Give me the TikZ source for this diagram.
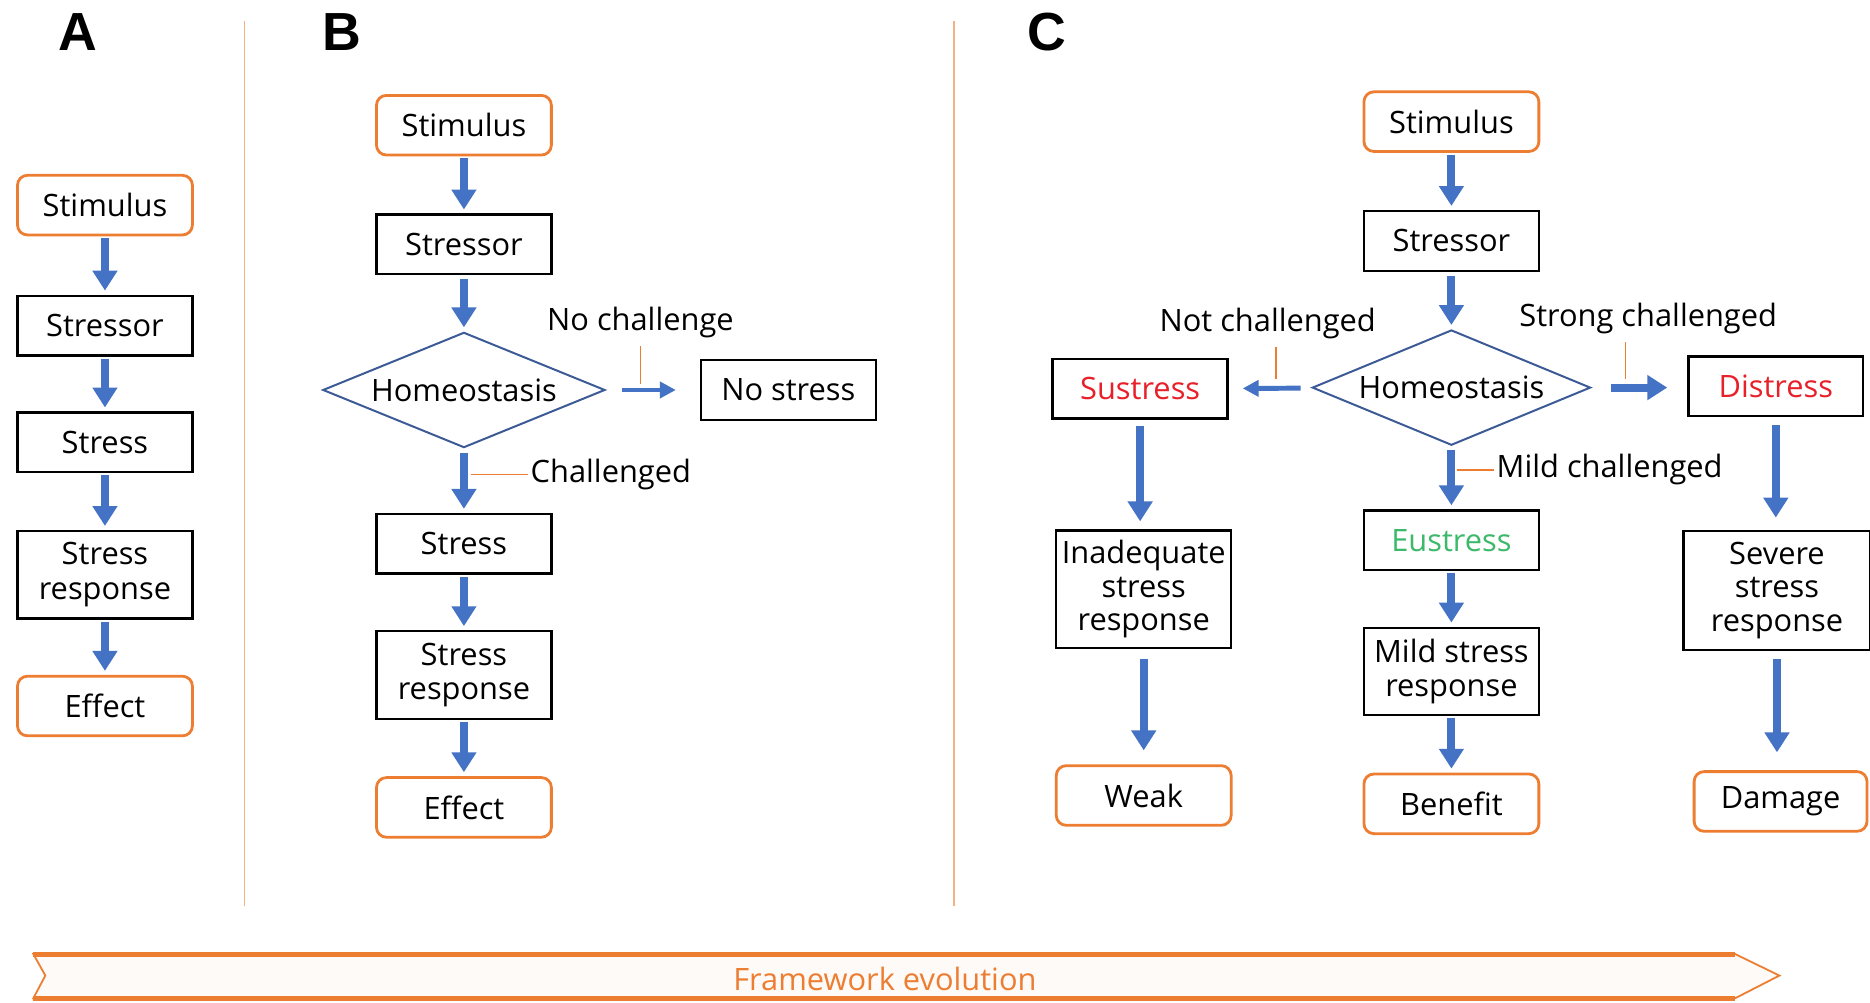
\documentclass[tikz,border=0pt]{standalone}
\usepackage{fontspec}
\setmainfont{Open Sans}
\newfontfamily\lblfont{Liberation Sans}
\usetikzlibrary{shapes.geometric,arrows.meta}
\definecolor{orng}{HTML}{ED7D31}
\definecolor{lorng}{HTML}{F4B183}
\definecolor{arrblue}{HTML}{4472C4}
\definecolor{dgblue}{HTML}{3C5A96}
\definecolor{sred}{HTML}{E8202A}
\definecolor{egreen}{HTML}{3CB96A}
\begin{document}
\begin{tikzpicture}[x=0.6pt,y=-0.6pt,
  txt/.style={font=\fontsize{15.5}{17.5}\selectfont},
  box/.style={txt,draw=black,line width=1.2pt,minimum width=88pt,minimum height=30pt,inner sep=2pt,align=center},
  rbox/.style={box,draw=orng,rounded corners=5pt,line width=1.4pt},
  dia/.style={txt,diamond,aspect=2.45,draw=dgblue,line width=1pt,minimum width=142pt,minimum height=58pt,inner sep=0pt},
  flow/.style={-{Triangle[width=12pt,length=10pt]},line width=4pt,draw=arrblue},
  thinflow/.style={-{Triangle[width=8pt,length=8pt]},line width=2.5pt,draw=arrblue},
  lbl/.style={txt,inner sep=1pt},
  tick/.style={draw=orng,line width=0.8pt},
  panel/.style={font=\lblfont\bfseries\fontsize{27}{27}\selectfont,inner sep=0pt}]
\useasboundingbox (0,0) rectangle (1568,841);
\fill[white] (0,0) rectangle (1568,841);

% dividers
\draw[draw=lorng,line width=0.9pt] (205,18) -- (205,760);
\draw[draw=lorng,line width=0.9pt] (800,18) -- (800,760);

% ---------- Panel A ----------
\node[panel] (labA) at (65,27) {A};
\node[rbox] (a1) at (88,172) {Stimulus};
\node[box] (a2) at (88,273) {Stressor};
\node[box] (a3) at (88,371) {Stress};
\node[box,minimum height=44pt] (a4) at (88,482) {Stress\\response};
\node[rbox] (a5) at (88,592) {Effect};
\draw[flow,shorten <=1pt,shorten >=2pt] (a1) -- (a2);
\draw[flow,shorten <=1pt,shorten >=2pt] (a2) -- (a3);
\draw[flow,shorten <=1pt,shorten >=2pt] (a3) -- (a4);
\draw[flow,shorten <=1pt,shorten >=2pt] (a4) -- (a5);

% ---------- Panel B ----------
\node[panel] (labB) at (287,27) {B};
\node[rbox] (b1) at (389,105) {Stimulus};
\node[box] (b2) at (389,205) {Stressor};
\node[dia] (b3) at (389,327) {Homeostasis};
\node[box] (b4) at (661,327) {No stress};
\node[box] (b5) at (389,456) {Stress};
\node[box,minimum height=44pt] (b6) at (389,566) {Stress\\response};
\node[rbox] (b7) at (389,677) {Effect};
\draw[flow,shorten <=1pt,shorten >=2pt] (b1) -- (b2);
\draw[flow,shorten <=2pt,shorten >=2pt] (b2) -- (b3);
\draw[flow,shorten <=2pt,shorten >=2pt] (b3) -- (b5);
\draw[flow,shorten <=1pt,shorten >=2pt] (b5) -- (b6);
\draw[flow,shorten <=1pt,shorten >=2pt] (b6) -- (b7);
\draw[thinflow,shorten <=8pt,shorten >=12pt] (b3) -- (b4);
\node[lbl] (nc) at (537,270) {No challenge};
\coordinate (nct) at (537,322);
\draw[tick,shorten <=3pt] (nc) -- (nct);
\node[lbl,anchor=west] (chl) at (443,398) {Challenged};
\coordinate (cht) at (395,398);
\draw[tick] (cht) -- (chl);

% ---------- Panel C ----------
\node[panel] (labC) at (878,27) {C};
\node[rbox] (c1) at (1217,102) {Stimulus};
\node[box] (c2) at (1217,202) {Stressor};
\node[dia,minimum width=140pt] (c3) at (1217,325) {Homeostasis};
\node[box] (c4) at (956,326) {\textcolor{sred}{Sustress}};
\node[box] (c5) at (1489,324) {\textcolor{sred}{Distress}};
\node[box] (c6) at (1217,453) {\textcolor{egreen}{Eustress}};
\node[box,minimum height=44pt] (c7) at (1217,563) {Mild stress\\response};
\node[rbox] (c8) at (1217,674) {Benefit};
\node[box,minimum height=59pt,font=\fontsize{15.5}{16.8}\selectfont] (c9) at (959,494) {Inadequate\\stress\\response};
\node[rbox] (c10) at (959,667) {Weak};
\node[box,minimum width=94pt,minimum height=60pt,font=\fontsize{15.5}{16.8}\selectfont] (c11) at (1490,495) {Severe\\stress\\response};
\node[rbox,minimum width=87pt] (c12) at (1493,672) {Damage};
\draw[flow,shorten <=1pt,shorten >=2pt] (c1) -- (c2);
\draw[flow,shorten <=2pt,shorten >=2pt] (c2) -- (c3);
\draw[flow,shorten <=2pt,shorten >=2pt] (c3) -- (c6);
\draw[flow,shorten <=1pt,shorten >=2pt] (c6) -- (c7);
\draw[flow,shorten <=1pt,shorten >=2pt] (c7) -- (c8);
\draw[thinflow,shorten <=6pt,shorten >=7pt] (c3) -- (c4);
\draw[flow,shorten <=10pt,shorten >=10pt] (c3.east) -- (c3.east -| c5.west);
\draw[flow,shorten <=3pt,shorten >=4pt] (c4) -- (c4 |- c9.north);
\draw[flow,shorten <=5pt,shorten >=7pt] (c9) -- (c10);
\draw[flow,shorten <=4pt,shorten >=6pt] (c5.south) -- (c5.south |- c11.north);
\draw[flow,shorten <=4pt,shorten >=9pt] (c11.south) -- (c11.south |- c12.north);
\node[lbl] (ncl) at (1063,271) {Not challenged};
\coordinate (nclt) at (1070,318);
\draw[tick,shorten <=3pt] (ncl.south -| nclt) -- (nclt);
\node[lbl] (scl) at (1382,267) {Strong challenged};
\coordinate (sclt) at (1363,318);
\draw[tick,shorten <=3pt] (scl.south -| sclt) -- (sclt);
\node[lbl,anchor=west] (mcl) at (1253,394) {Mild challenged};
\coordinate (mclt) at (1222,394);
\draw[tick] (mclt) -- (mcl);

% ---------- Bottom arrow ----------
\coordinate (ba1) at (28,800);
\coordinate (ba2) at (1455,800);
\coordinate (ba3) at (1492,818);
\coordinate (ba4) at (1455,837);
\coordinate (ba5) at (28,837);
\coordinate (ba6) at (38,818);
\draw[orng,line width=0.9pt,fill=orng!4] (ba1) -- (ba2) -- (ba3) -- (ba4) -- (ba5) -- (ba6) -- cycle;
\draw[orng,line width=2.6pt] (ba1) -- (ba2);
\draw[orng,line width=2.6pt] (ba5) -- (ba4);
\node[lbl,text=orng] (fe) at (742,821) {Framework evolution};
\end{tikzpicture}
\end{document}
